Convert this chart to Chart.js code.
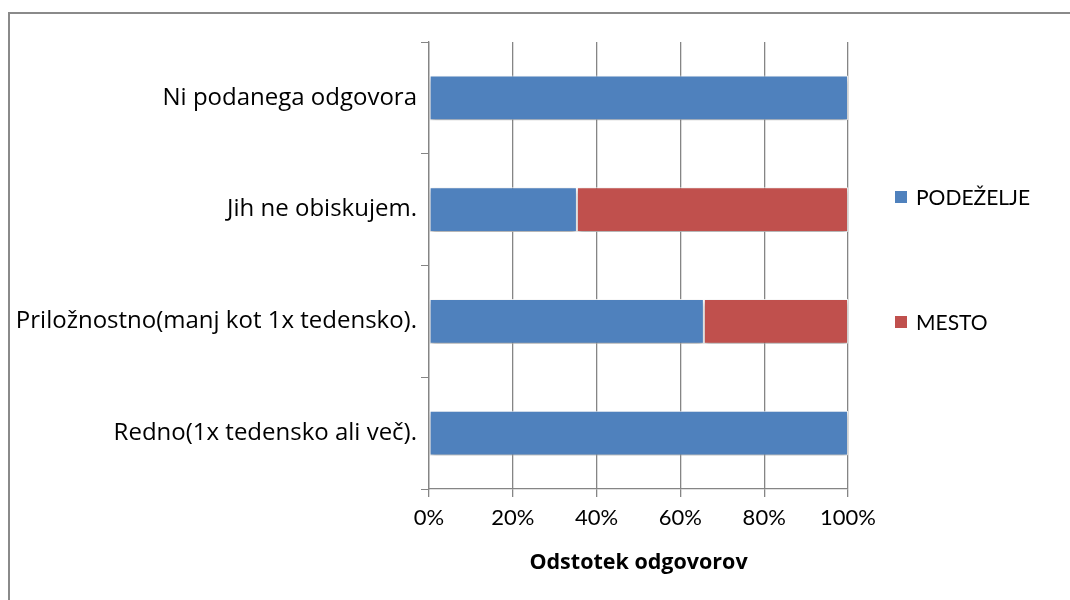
<!DOCTYPE html>
<html>
<head>
<meta charset="utf-8">
<script src="https://cdn.jsdelivr.net/npm/chart.js@4.4.1/dist/chart.umd.min.js"></script>
<style>
    html, body { margin: 0; padding: 0; background: #fff; }
    #wrap { position: relative; width: 1070px; height: 600px; overflow: hidden; }
    #frame { position: absolute; left: 8px; top: 12px; right: -10px; bottom: -10px; border-top: 2px solid #8a8a8a; border-left: 2px solid #8a8a8a; }
    canvas { position: absolute; left: 0; top: 0; }
</style>
</head>
<body>
<div id="wrap">
    <div id="frame"></div>
    <canvas id="chart" width="1070" height="600"></canvas>
</div>
<script>
const categories = ['Ni podanega odgovora', 'Jih ne obiskujem.', 'Priložnostno(manj kot 1x tedensko).', 'Redno(1x tedensko ali več).'];
const podezelje = [100, 35.3, 65.6, 100];
const mesto = [0, 64.7, 34.4, 0];
const xTicks = [0, 20, 40, 60, 80, 100];

const FONT = 'Lato, "Open Sans", sans-serif';
const FONT_WIDE = '"Open Sans", Lato, sans-serif';
const gridColor = '#858585';

// soft shadow under the bars, like the office chart
const barShadow = {
    id: 'barShadow',
    beforeDatasetsDraw(chart) {
        const ctx = chart.ctx;
        ctx.save();
        ctx.shadowColor = 'rgba(0,0,0,0.35)';
        ctx.shadowBlur = 5;
        ctx.shadowOffsetY = 3;
    },
    afterDatasetsDraw(chart) {
        chart.ctx.restore();
    }
};

// legend on the right, two items far apart
const sideLegend = {
    id: 'sideLegend',
    afterDraw(chart) {
        const ctx = chart.ctx;
        const area = chart.chartArea;
        const mid = (area.top + area.bottom) / 2 - 6;
        const gap = 125;
        ctx.save();
        ctx.font = '21px ' + FONT;
        ctx.textBaseline = 'middle';
        chart.data.datasets.forEach((ds, i) => {
            const y = mid + (i - 0.5) * gap;
            const x = area.right + 47;
            ctx.fillStyle = ds.backgroundColor;
            ctx.fillRect(x, y - 6, 12, 12);
            ctx.fillStyle = '#000';
            ctx.fillText(ds.label, x + 21, y + 1);
        });
        ctx.restore();
    }
};

new Chart(document.getElementById('chart'), {
    type: 'bar',
    data: {
        labels: categories,
        datasets: [
            { label: 'PODEŽELJE', data: podezelje, backgroundColor: '#4F81BD', borderColor: 'rgba(255,255,255,0.85)', borderWidth: 1, borderSkipped: false },
            { label: 'MESTO', data: mesto, backgroundColor: '#C0504D', borderColor: 'rgba(255,255,255,0.85)', borderWidth: 1, borderSkipped: false }
        ]
    },
    options: {
        indexAxis: 'y',
        responsive: false,
        animation: false,
        barPercentage: 0.4,
        categoryPercentage: 1,
        layout: { padding: { top: 42, right: 222, bottom: 0, left: 0 } },
        plugins: { legend: { display: false }, tooltip: { enabled: false } },
        scales: {
            x: {
                stacked: true,
                min: 0,
                max: 100,
                afterBuildTicks: s => { s.ticks = xTicks.map(v => ({ value: v })); },
                afterFit: s => { s.height = 111; },
                ticks: { callback: v => v + '%', color: '#000', font: { family: FONT, size: 22 }, padding: 8, maxRotation: 0 },
                grid: { color: gridColor, lineWidth: 1.3, tickLength: 8 },
                border: { display: true, color: gridColor, width: 1.3 },
                title: { display: true, text: 'Odstotek odgovorov', color: '#000', font: { family: FONT_WIDE, size: 21.5, weight: 'bold' }, padding: { top: 0, bottom: 24 } }
            },
            y: {
                stacked: true,
                afterFit: s => { s.width = 429; },
                ticks: { color: '#000', font: { family: FONT_WIDE, size: 24 }, padding: 4 },
                grid: { offset: true, drawOnChartArea: false, color: gridColor, tickLength: 8 },
                border: { display: true, color: gridColor, width: 1.3 }
            }
        }
    },
    plugins: [barShadow, sideLegend]
});
</script>
</body>
</html>
